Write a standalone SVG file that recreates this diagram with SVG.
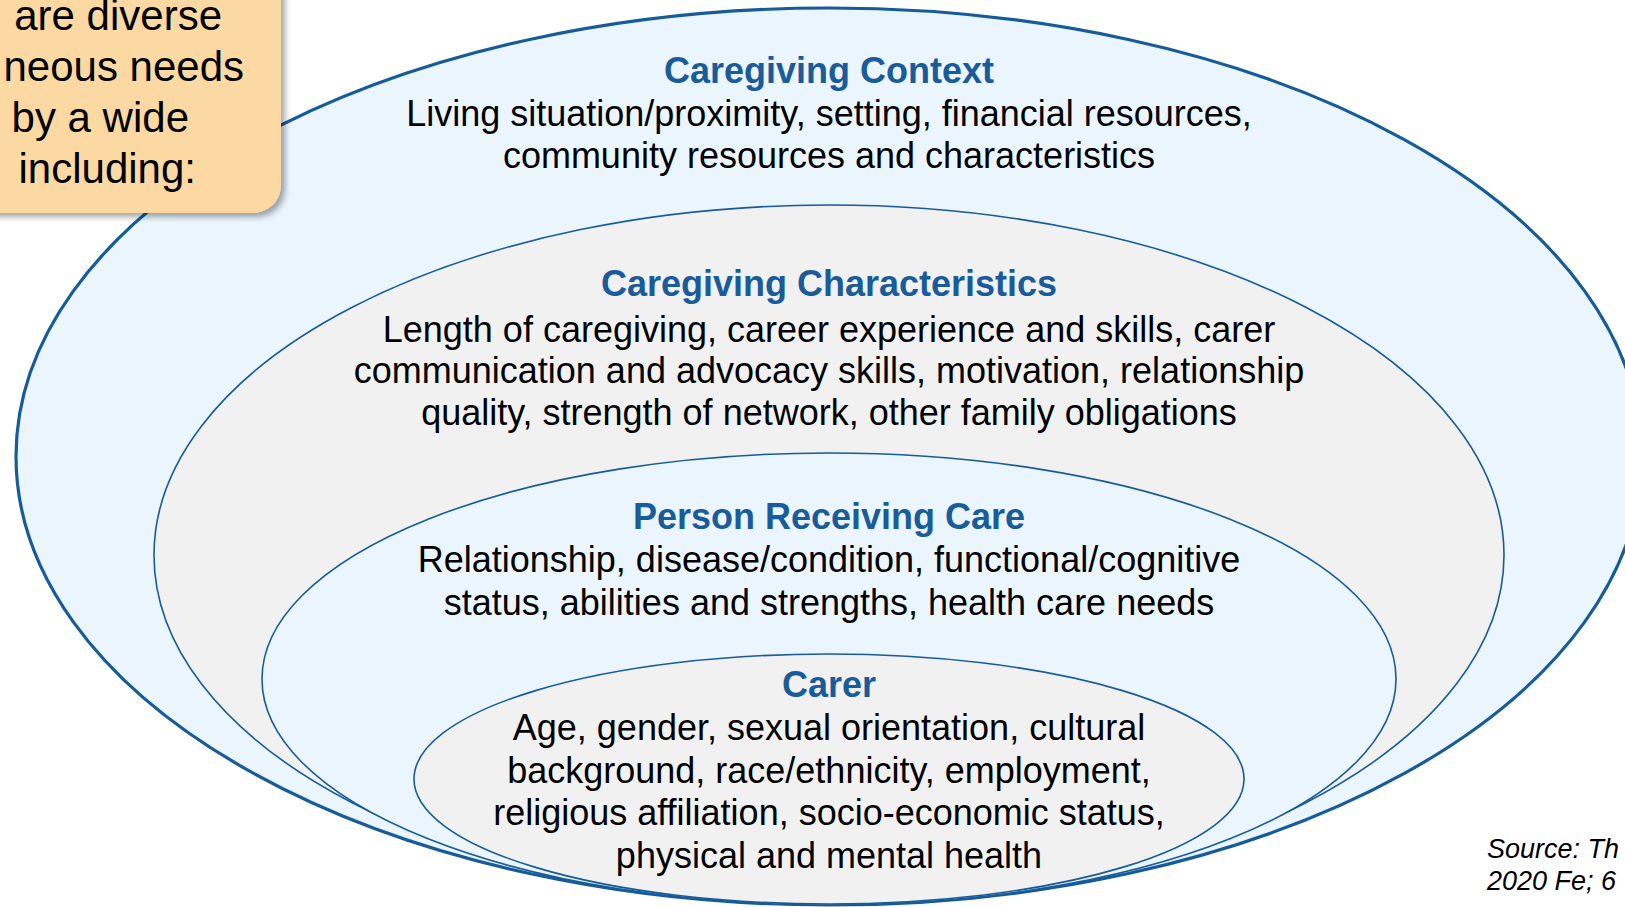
<svg xmlns="http://www.w3.org/2000/svg" width="1625" height="907" viewBox="0 0 1625 907">
<defs>
<style>
.t{font-family:"Liberation Sans",Arial,sans-serif;text-anchor:middle}
.h{font-size:36px;font-weight:bold;fill:#1A5B9A}
.b{font-size:36px;fill:#000}
.o{font-family:"Liberation Sans",Arial,sans-serif;font-size:42px;fill:#000;text-anchor:end}
.s{font-family:"Liberation Sans",Arial,sans-serif;font-size:27px;font-style:italic;fill:#000}
.blue{fill:#EAF5FE}
.gray{fill:#F1F1F1}
.thin{stroke:#175B98;stroke-width:1.6}
</style>
<filter id="sh" x="-20%" y="-20%" width="140%" height="140%">
<feDropShadow dx="4" dy="4" stdDeviation="3" flood-color="#000" flood-opacity="0.35"/>
</filter>
</defs>
<rect width="1625" height="907" fill="#fff"/>
<g id="context">
<ellipse cx="829" cy="456.5" rx="813" ry="448.5" class="blue" stroke="#175B98" stroke-width="3.2"/>
<text class="t h" x="829" y="83">Caregiving Context</text>
<text class="t b" x="829" y="126">Living situation/proximity, setting, financial resources,</text>
<text class="t b" x="829" y="168">community resources and characteristics</text>
</g>
<g id="characteristics">
<ellipse cx="829" cy="555" rx="675" ry="350" class="gray thin"/>
<text class="t h" x="829" y="296">Caregiving Characteristics</text>
<text class="t b" x="829" y="342">Length of caregiving, career experience and skills, carer</text>
<text class="t b" x="829" y="383">communication and advocacy skills, motivation, relationship</text>
<text class="t b" x="829" y="425">quality, strength of network, other family obligations</text>
</g>
<g id="person">
<ellipse cx="829" cy="679" rx="567" ry="226" class="blue thin"/>
<text class="t h" x="829" y="529">Person Receiving Care</text>
<text class="t b" x="829" y="572">Relationship, disease/condition, functional/cognitive</text>
<text class="t b" x="829" y="615">status, abilities and strengths, health care needs</text>
</g>
<g id="carer">
<ellipse cx="829" cy="779" rx="415" ry="125" class="gray thin"/>
<text class="t h" x="829" y="697">Carer</text>
<text class="t b" x="829" y="740">Age, gender, sexual orientation, cultural</text>
<text class="t b" x="829" y="783">background, race/ethnicity, employment,</text>
<text class="t b" x="829" y="825">religious affiliation, socio-economic status,</text>
<text class="t b" x="829" y="868">physical and mental health</text>
</g>
<g id="callout">
<rect x="-40" y="-40" width="321" height="253" rx="28" fill="#FCD8A2" filter="url(#sh)"/>
<text class="o" x="222" y="30">are diverse</text>
<text class="o" x="244" y="81">neous needs</text>
<text class="o" x="189" y="132">by a wide</text>
<text class="o" x="196" y="183">including:</text>
</g>
<g id="source">
<text class="s" x="1487" y="858">Source: Th</text>
<text class="s" x="1487" y="890">2020 Fe; 6</text>
</g>
<g id="connectors"></g>
</svg>
